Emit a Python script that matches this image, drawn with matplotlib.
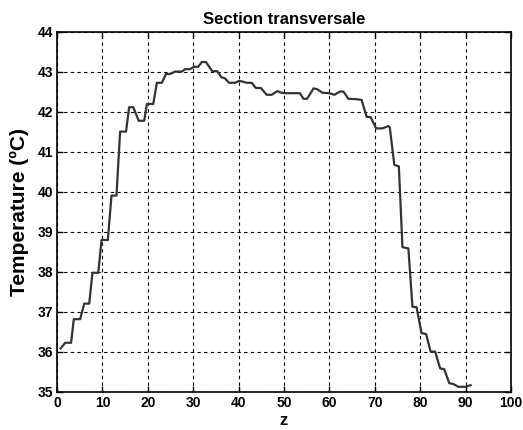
import numpy as np
import matplotlib
matplotlib.use('Agg')
from matplotlib import pyplot as plt
from matplotlib import font_manager

# profil de temperature
z = [0.8, 1.8, 3.1, 3.7, 5.1, 6.0, 7.1, 7.8, 9.1, 9.8, 11.2, 12.0, 13.1, 13.9, 15.2,
     15.9, 16.8, 18.0, 19.2, 19.8, 21.2, 22.0, 23.1, 24.0, 24.9, 26.0, 27.5, 28.2, 29.3,
     30.2, 31.1, 31.9, 32.8, 34.2, 35.3, 36.2, 37.0, 37.9, 39.2, 40.2, 41.8, 42.9, 43.8,
     44.9, 46.2, 47.3, 48.5, 49.5, 50.2, 53.5, 54.3, 55.1, 56.5, 57.3, 58.5, 60.0, 61.1,
     62.3, 63.1, 64.2, 66.0, 67.1, 68.2, 69.1, 70.3, 71.7, 73.0, 73.3, 74.3, 75.3, 76.1,
     77.4, 78.3, 79.2, 80.3, 81.3, 82.3, 83.3, 84.4, 85.3, 86.4, 87.3, 88.4, 90.0, 91.1]
temp = [36.09, 36.23, 36.23, 36.82, 36.82, 37.21, 37.21, 37.98, 37.98, 38.80, 38.80, 39.91,
        39.91, 41.51, 41.51, 42.12, 42.12, 41.78, 41.78, 42.20, 42.20, 42.73, 42.73, 42.95,
        42.95, 43.01, 43.01, 43.07, 43.07, 43.13, 43.13, 43.25, 43.25, 43.02, 43.02, 42.87,
        42.84, 42.73, 42.73, 42.78, 42.73, 42.73, 42.60, 42.60, 42.43, 42.43, 42.52, 42.48,
        42.47, 42.47, 42.33, 42.33, 42.59, 42.57, 42.48, 42.47, 42.43, 42.51, 42.51, 42.33,
        42.32, 42.30, 41.88, 41.87, 41.59, 41.59, 41.65, 41.62, 40.68, 40.64, 38.62, 38.59,
        37.13, 37.12, 36.47, 36.45, 36.01, 36.01, 35.59, 35.57, 35.22, 35.20, 35.13, 35.13,
        35.17]

xticks = np.arange(0, 101, 10)
yticks = np.arange(35, 45, 1)

# police etroite pour les graduations si disponible
noms = {f.name for f in font_manager.fontManager.ttflist}
police_ticks = 'Liberation Sans Narrow' if 'Liberation Sans Narrow' in noms else 'Liberation Sans'

fig = plt.figure(figsize=(5.23, 4.30), dpi=100)
ax = fig.add_axes([0.109, 0.0884, 0.868, 0.8372])

ax.plot(z, temp, color='#333333', linewidth=1.6)

ax.set_xlim(0, 100)
ax.set_ylim(35, 44)
ax.set_xticks(xticks)
ax.set_yticks(yticks)
ax.grid(True, color='black', linestyle=(0, (3, 3)), linewidth=0.8)

ax.tick_params(direction='in', top=True, right=True, length=4, width=1, pad=3)
for lab in ax.get_xticklabels() + ax.get_yticklabels():
    lab.set_family(police_ticks)
    lab.set_fontweight('bold')
    lab.set_fontsize(10)
for s in ax.spines.values():
    s.set_linewidth(1.2)

ax.set_title('Section transversale', fontsize=12, fontweight='bold',
             family='Liberation Sans', pad=6)
ax.set_xlabel('z', fontsize=12, fontweight='bold', family='Liberation Sans', labelpad=2)
ax.set_ylabel('Temperature (ºC)', fontsize=15, fontweight='bold',
              family='Liberation Sans', labelpad=6)

fig.savefig('out.png', dpi=100)
